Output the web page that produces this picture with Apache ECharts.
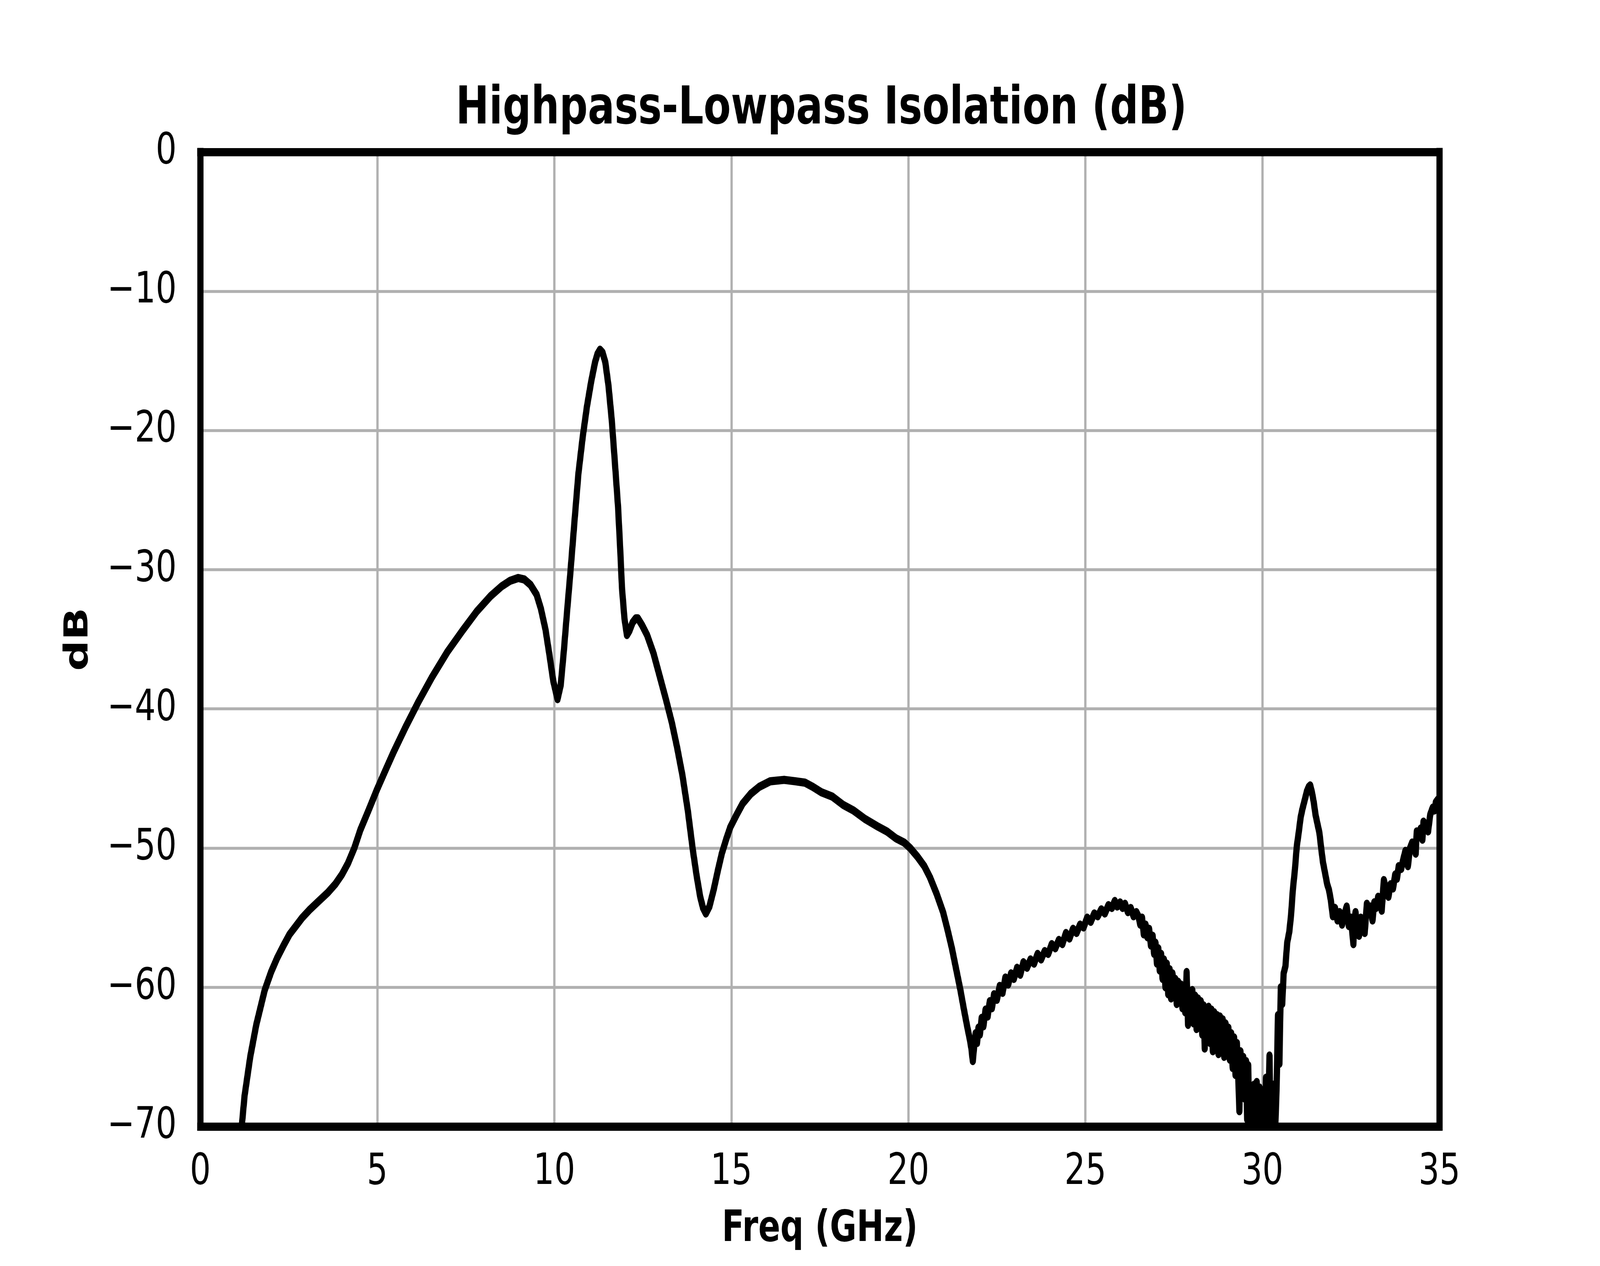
<!DOCTYPE html>
<html>
<head>
<meta charset="utf-8">
<script src="https://cdn.jsdelivr.net/npm/echarts@6/dist/echarts.min.js"></script>
<style>
  html, body { margin: 0; padding: 0; background: #fff; overflow: hidden; }
  #wrap { position: fixed; left: 0; top: 0; width: 100vw; height: 100vh; overflow: hidden; }
  #chart { width: 5400px; height: 3240px; transform-origin: 0 0; }
</style>
</head>
<body>
<div id="wrap"><div id="chart"></div></div>
<script>
// [GHz, dB]
const rollOn = [
  [1.00,-73.5],[1.17,-70.0],[1.25,-67.8],[1.41,-65.0],[1.58,-62.7],[1.82,-60.2],[2.00,-58.9],[2.17,-57.9],
  [2.35,-57.0],[2.52,-56.2],[2.70,-55.6],[2.88,-55.0],[3.10,-54.4],[3.35,-53.8],[3.60,-53.2],[3.81,-52.6],
  [4.00,-51.9],[4.17,-51.1],[4.35,-50.0],[4.52,-48.7],[4.75,-47.3],[4.99,-45.8],[5.25,-44.3],[5.46,-43.1],
  [5.80,-41.3],[6.16,-39.5],[6.55,-37.7],[6.98,-35.9],[7.40,-34.4],[7.81,-33.0],[8.20,-31.9],[8.51,-31.2],
  [8.75,-30.8],[8.98,-30.6],[9.15,-30.7],[9.33,-31.1],[9.50,-31.8],[9.62,-32.8],[9.75,-34.3],[9.86,-36.1],
  [9.97,-38.0],[10.09,-39.3]
];
const crossoverPeak = [
  [10.18,-38.3],[10.27,-35.8],[10.36,-33.0],[10.45,-30.3],[10.57,-26.5],[10.68,-23.1],[10.80,-20.5],
  [10.92,-18.3],[11.04,-16.5],[11.15,-15.1],[11.22,-14.5],[11.29,-14.2],[11.36,-14.4],[11.44,-15.1],
  [11.53,-16.8],[11.62,-19.2],[11.71,-22.3],[11.80,-25.5],[11.86,-28.5],[11.91,-31.3],[11.98,-33.5],
  [12.05,-34.7],[12.12,-34.4],[12.21,-33.8],[12.30,-33.5],[12.36,-33.5],[12.48,-34.0],[12.62,-34.7],
  [12.80,-36.0],[12.97,-37.6],[13.15,-39.3],[13.32,-41.0],[13.47,-42.8],[13.62,-44.8],[13.77,-47.3],
  [13.91,-50.1],[14.02,-52.0],[14.12,-53.5],[14.20,-54.3],[14.28,-54.7],[14.38,-54.2],[14.50,-53.0],
  [14.62,-51.6],[14.73,-50.4],[14.85,-49.4],[14.97,-48.5],[15.15,-47.6],[15.32,-46.8],[15.55,-46.1],
  [15.79,-45.6],[16.10,-45.2],[16.49,-45.1],[16.80,-45.2],[17.08,-45.3]
];
const midBand = [
  [17.30,-45.6],[17.55,-46.0],[17.85,-46.3],[18.16,-46.9],[18.45,-47.3],[18.77,-47.9],[19.10,-48.4],
  [19.39,-48.8],[19.65,-49.3],[19.88,-49.6],[20.05,-50.0],[20.25,-50.6],[20.45,-51.3],[20.61,-52.1],
  [20.80,-53.3],[20.98,-54.6],[21.10,-55.8],[21.23,-57.2],[21.35,-58.7],[21.47,-60.2],[21.57,-61.6],
  [21.66,-62.8],[21.74,-63.8],[21.78,-64.4],[21.82,-65.3],[21.86,-64.2],[21.90,-63.3],[21.94,-64.0],
  [21.98,-62.9],[22.02,-63.4],[22.07,-62.2],[22.12,-62.8],[22.18,-61.6],[22.24,-62.1],[22.30,-61.0],
  [22.36,-61.5],[22.42,-60.5],[22.50,-60.9],[22.58,-59.9],[22.66,-60.4],[22.74,-59.3],[22.82,-59.8],
  [22.90,-59.0],[22.98,-59.4],[23.07,-58.6],[23.16,-59.1],[23.25,-58.2],[23.35,-58.6],[23.45,-58.0],
  [23.55,-58.3],[23.65,-57.6],[23.75,-58.0],[23.85,-57.4],[23.95,-57.6],[24.05,-56.9],[24.15,-57.2],
  [24.25,-56.6],[24.35,-56.9],[24.45,-56.1],[24.55,-56.5],[24.65,-55.8],[24.75,-56.1],[24.85,-55.5],
  [24.95,-55.7],[25.05,-55.0],[25.15,-55.3],[25.25,-54.7],[25.35,-54.9],[25.45,-54.4],[25.55,-54.7],
  [25.65,-54.1],[25.75,-54.3],[25.83,-53.8],[25.90,-54.2],[25.98,-53.9],[26.05,-54.3],[26.12,-54.0],
  [26.20,-54.6],[26.28,-54.3],[26.36,-54.9],[26.44,-54.6]
];
const noisyNotch = [
  [26.50,-54.9],[26.55,-55.5],[26.60,-55.0],[26.65,-56.2],[26.70,-55.5],[26.75,-56.4],[26.80,-55.8],
  [26.85,-57.0],[26.90,-56.3],[26.94,-57.6],[26.98,-56.8],[27.02,-58.3],[27.06,-57.2],[27.10,-58.8],
  [27.14,-57.6],[27.18,-59.4],[27.22,-58.0],[27.26,-60.0],[27.30,-58.3],[27.34,-60.5],[27.38,-58.7],
  [27.42,-60.8],[27.46,-59.0],[27.50,-60.3],[27.54,-59.4],[27.58,-61.2],[27.62,-59.6],[27.66,-60.9],
  [27.70,-59.8],[27.74,-61.5],[27.78,-60.0],[27.82,-61.8],[27.86,-58.9],[27.90,-62.7],[27.94,-60.4],
  [27.98,-62.2],[28.02,-60.2],[28.06,-62.6],[28.10,-60.6],[28.14,-63.0],[28.18,-60.8],[28.22,-62.8],
  [28.26,-61.0],[28.30,-63.4],[28.34,-61.3],[28.37,-64.4],[28.40,-61.5],[28.44,-63.6],[28.48,-61.4],
  [28.52,-64.0],[28.56,-61.6],[28.60,-64.6],[28.64,-61.8],[28.68,-64.2],[28.72,-62.0],[28.76,-64.8],
  [28.80,-62.1],[28.84,-64.5],[28.88,-62.3],[28.92,-65.0],[28.96,-62.6],[29.00,-64.9],[29.04,-62.9],
  [29.08,-65.2],[29.12,-63.3],[29.16,-65.8],[29.20,-63.6],[29.24,-66.3],[29.28,-64.0],[29.32,-66.6],
  [29.35,-68.9],[29.38,-64.6],[29.42,-67.5],[29.46,-65.0],[29.50,-68.0],[29.54,-65.3],[29.57,-69.5],
  [29.60,-65.6],[29.64,-72.0],[29.68,-67.2],[29.72,-74.0],[29.76,-67.0],[29.80,-73.0],[29.84,-66.8],
  [29.88,-75.0],[29.92,-67.2],[29.96,-73.0],[30.00,-67.4],[30.05,-75.0],[30.10,-66.5],[30.15,-72.0],
  [30.20,-64.9],[30.25,-74.0],[30.30,-67.0],[30.35,-71.0],[30.40,-67.4]
];
const upperBand = [
  [30.44,-62.0],[30.48,-65.5],[30.52,-60.0],[30.56,-61.2],[30.60,-59.0],[30.65,-58.5],[30.70,-56.8],
  [30.76,-56.0],[30.81,-54.8],[30.86,-53.0],[30.92,-51.5],[30.97,-49.9],[31.03,-48.8],[31.08,-47.8],
  [31.13,-47.2],[31.20,-46.5],[31.26,-45.9],[31.31,-45.6],[31.35,-45.5],[31.40,-46.0],[31.45,-46.7],
  [31.50,-47.6],[31.55,-48.2],[31.61,-48.9],[31.66,-50.0],[31.71,-51.0],[31.77,-51.8],[31.83,-52.6],
  [31.88,-53.0],[31.93,-53.7],[31.99,-54.9],[32.05,-54.3],[32.12,-55.2],[32.18,-54.6],[32.25,-55.5],
  [32.31,-54.8],[32.38,-54.2],[32.44,-55.6],[32.50,-55.0],[32.57,-56.9],[32.60,-55.2],[32.63,-54.6],
  [32.68,-55.8],[32.73,-56.3],[32.78,-55.0],[32.84,-55.6],[32.89,-56.1],[32.95,-54.0],[33.00,-54.6],
  [33.05,-54.2],[33.11,-55.2],[33.16,-53.9],[33.21,-54.3],[33.27,-53.5],[33.32,-53.9],[33.37,-54.5],
  [33.43,-52.3],[33.50,-53.0],[33.56,-53.5],[33.62,-52.6],[33.69,-52.9],[33.75,-51.9],[33.80,-52.2],
  [33.85,-51.3],[33.92,-51.5],[33.98,-50.8],[34.04,-50.2],[34.11,-51.3],[34.17,-50.0],[34.23,-49.6],
  [34.28,-49.9],[34.33,-50.4],[34.36,-48.8],[34.42,-49.0],[34.47,-48.6],[34.52,-49.4],[34.55,-48.1],
  [34.62,-48.4],[34.68,-48.8],[34.74,-47.6],[34.81,-47.1],[34.86,-47.3],[34.90,-46.7],[34.96,-46.5],
  [35.00,-46.6]
];

const xTicks = [0, 5, 10, 15, 20, 25, 30, 35];
const yTicks = [-70, -60, -50, -40, -30, -20, -10, 0];

const trace = rollOn.concat(crossoverPeak, midBand, noisyNotch, upperBand);

const FONT = 'DejaVu Sans';
const SPINE = 21;

// the chart is laid out on a 5400x3240 canvas, then fitted to the real viewport
const el = document.getElementById('chart');
const fitX = window.innerWidth / 5400;
const fitY = window.innerHeight / 3240;
el.style.transform = 'scale(' + fitX + ',' + fitY + ')';

const chart = echarts.init(el, null, { renderer: 'canvas' });

// spine-only axes, drawn above the grid lines
function spineX(pos) {
  return {
    type: 'value', position: pos, min: xTicks[0], max: xTicks[xTicks.length - 1], interval: 5, z: 5,
    axisLine: { show: true, onZero: false, lineStyle: { color: '#000', width: SPINE, cap: 'square' } },
    axisTick: { show: false }, axisLabel: { show: false }, splitLine: { show: false }
  };
}
function spineY(pos) {
  return {
    type: 'value', position: pos, min: yTicks[0], max: yTicks[yTicks.length - 1], interval: 10, z: 5,
    axisLine: { show: true, onZero: false, lineStyle: { color: '#000', width: SPINE, cap: 'square' } },
    axisTick: { show: false }, axisLabel: { show: false }, splitLine: { show: false }
  };
}

const option = {
  animation: false,
  backgroundColor: '#fff',
  title: {
    text: 'Highpass-Lowpass Isolation (dB)',
    left: 2767,
    top: 209,
    textAlign: 'center',
    textStyle: { fontFamily: FONT, fontWeight: 'bold', fontSize: 134, color: '#000' }
  },
  grid: { left: 676, right: 542, top: 389, bottom: 357, containLabel: false },
  xAxis: [
    {
      type: 'value', min: xTicks[0], max: xTicks[xTicks.length - 1], interval: 5,
      name: 'Freq (GHz)', nameLocation: 'middle', nameGap: 209,
      nameTextStyle: { fontFamily: FONT, fontWeight: 'bold', fontSize: 110, color: '#000' },
      axisLine: { show: false }, axisTick: { show: false },
      axisLabel: { margin: 63, fontFamily: FONT, fontSize: 111, color: '#000' },
      splitLine: { show: true, lineStyle: { color: '#b0b0b0', width: 7.7 } }
    },
    spineX('bottom'),
    spineX('top')
  ],
  yAxis: [
    {
      type: 'value', min: yTicks[0], max: yTicks[yTicks.length - 1], interval: 10,
      name: 'dB', nameLocation: 'middle', nameGap: 355, nameRotate: 90,
      nameTextStyle: { fontFamily: FONT, fontWeight: 'bold', fontSize: 110, color: '#000' },
      axisLine: { show: false }, axisTick: { show: false },
      axisLabel: {
        margin: 80, fontFamily: FONT, fontSize: 111, color: '#000',
        formatter: v => String(v).replace('-', '\u2212')
      },
      splitLine: { show: true, lineStyle: { color: '#b0b0b0', width: 7.7 } }
    },
    spineY('left'),
    spineY('right')
  ],
  series: [
    {
      name: 'Isolation',
      type: 'line',
      xAxisIndex: 0,
      yAxisIndex: 0,
      data: trace,
      showSymbol: false,
      clip: true,
      z: 3,
      lineStyle: { color: '#000', width: 21, join: 'round', cap: 'round' }
    }
  ]
};

chart.setOption(option);
</script>
</body>
</html>
